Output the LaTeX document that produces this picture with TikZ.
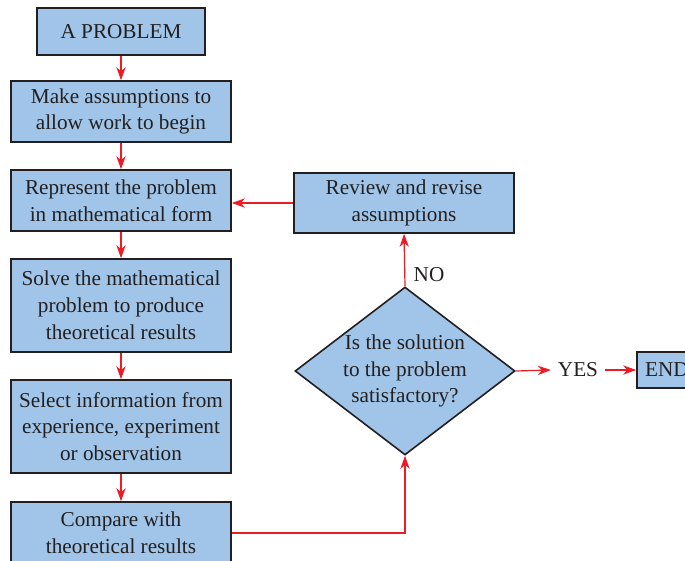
\documentclass[tikz,border=0pt]{standalone}
\usepackage{fontspec}
\setmainfont{Liberation Serif}
\usetikzlibrary{arrows.meta,shapes.geometric}
\definecolor{boxblue}{RGB}{160,197,232}
\definecolor{arrred}{RGB}{237,28,36}
\definecolor{ink}{RGB}{35,31,32}
\begin{document}
\begin{tikzpicture}[x=0.5pt,y=-0.5pt,
  txt/.style={font=\fontsize{10.6}{13.4}\selectfont, text=ink, align=center},
  box/.style={txt, draw=ink, fill=boxblue, line width=0.8pt, inner sep=0pt},
  arr/.style={draw=arrred, line width=0.6pt, -{Stealth[length=6.5pt,width=4.6pt,inset=2pt]}}]
\useasboundingbox (0,0) rectangle (685,561);
\clip (0,0) rectangle (685,561);
\node[box, minimum width=84pt, minimum height=23.5pt] (prob) at (121,31.5) {A PROBLEM};
\node[box, minimum width=110pt, minimum height=30.5pt] (make) at (121,111.5) {Make assumptions to\\allow work to begin};
\node[box, minimum width=110pt, minimum height=30.5pt] (rep) at (121,200.5) {Represent the problem\\in mathematical form};
\node[box, minimum width=110pt, minimum height=46.5pt] (solve) at (121,305.5) {Solve the mathematical\\problem to produce\\theoretical results};
\node[box, minimum width=110pt, minimum height=46.5pt] (sel) at (121,426.5) {Select information from\\experience, experiment\\or observation};
\node[box, minimum width=110pt, minimum height=31pt] (cmp) at (121,533) {Compare with\\theoretical results};
\node[box, minimum width=110pt, minimum height=30pt] (rev) at (404,203) {Review and revise\\assumptions};
\node[box, shape=diamond, minimum width=110pt, minimum height=84pt] (dia) at (405,371) {};
\node[txt] (diat) at (dia.center) {Is the solution\\to the problem\\satisfactory?};
\node[txt] (yes) at (578,370) {YES};
\node[txt] (no) at (429,275) {NO};
\node[box, minimum width=30pt, minimum height=18pt] (end) at (667,370) {END};
\draw[arr] (prob) -- (make);
\draw[arr] (make) -- (rep);
\draw[arr] (rep) -- (solve);
\draw[arr] (solve) -- (sel);
\draw[arr] (sel) -- (cmp);
\draw[arr] (rev.west) -- (rev.west -| rep.east);
\draw[arr] (dia.north) -- (rev.south);
\draw[arr] (dia.east) -- (yes.west);
\draw[arr] (yes.east) -- (end.west);
\draw[arr] (cmp.east) -| (dia.south);
\end{tikzpicture}
\end{document}
